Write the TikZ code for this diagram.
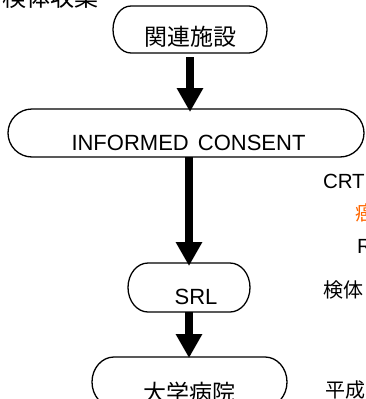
\documentclass[tikz,border=0pt]{standalone}
\usepackage{fontspec}
\setmainfont{Liberation Sans}
\newfontfamily\jp{Noto Sans CJK JP}
\usetikzlibrary{arrows.meta}
\definecolor{noteorange}{RGB}{255,102,0}
\newcommand\termpath[3]{%
  \draw[outline] ([xshift=#2]#1.north west) -- ([xshift=-#2]#1.north east)
    arc[start angle=90,end angle=-90,x radius=#2,y radius=#3]
    -- ([xshift=#2]#1.south west)
    arc[start angle=270,end angle=90,x radius=#2,y radius=#3] -- cycle;}
\tikzset{
  boxnode/.style={inner sep=0pt,outer sep=0pt,text height=0pt,text depth=0pt,
    font=\fontsize{22}{26}\selectfont},
  outline/.style={line width=1.3pt,black},
  flow/.style={line width=8pt,-{Triangle[width=25pt,length=24pt]}},
  note/.style={anchor=base west,inner sep=0pt,outer sep=0pt,font=\fontsize{20.5}{24}\selectfont},
  jpnote/.style={anchor=base west,inner sep=0pt,outer sep=0pt,font=\jp\fontsize{20}{24}\selectfont},
}
\begin{document}
\begin{tikzpicture}[x=1pt,y=-1pt]
\useasboundingbox (0,0) rectangle (366,399);
\clip (0,0) rectangle (366,399);
% title (cut off at top)
\node[anchor=base west,inner sep=0pt,font=\jp\fontsize{24}{28}\selectfont] (kk) at (2,6) {検体収集};
% boxes
\node[boxnode,minimum width=154pt,minimum height=47pt] (b1) at (190,29.5) {\raisebox{-16pt}{\jp\fontsize{23}{26}\selectfont 関連施設}};
\termpath{b1}{18pt}{23.5pt}
\node[boxnode,minimum width=356pt,minimum height=48pt] (b2) at (186,133) {\kern5pt\raisebox{-17pt}{INFORMED\kern3pt\ CONSENT}};
\termpath{b2}{24pt}{24pt}
\node[boxnode,minimum width=122pt,minimum height=49pt] (b3) at (189,287.5) {\kern14pt\raisebox{-16.5pt}{SRL}};
\termpath{b3}{20pt}{24.5pt}
\node[boxnode,minimum width=195pt,minimum height=50pt] (b4) at (189.5,382) {\raisebox{-19pt}{\jp\fontsize{23}{26}\selectfont 大学病院}};
\termpath{b4}{22pt}{25pt}
% arrows
\draw[flow] ([yshift=-4pt]b1.south) -- ([yshift=-3pt]b1.south |- b2.north);
\draw[flow] (b2.south -| b3.north) -- ([yshift=-3pt]b3.north);
\draw[flow] (b3.south) -- ([yshift=-1pt]b3.south |- b4.north);
% notes on the right (cut off)
\node[note] (cr) at (323,188) {CRT};
\node[jpnote,text=noteorange] (ca) at (355,220.5) {癌};
\node[note] (rr) at (357,253) {R};
\node[jpnote] (kt) at (323,297) {検体};
\node[jpnote] (hs) at (325,397.5) {平成};
\end{tikzpicture}
\end{document}
